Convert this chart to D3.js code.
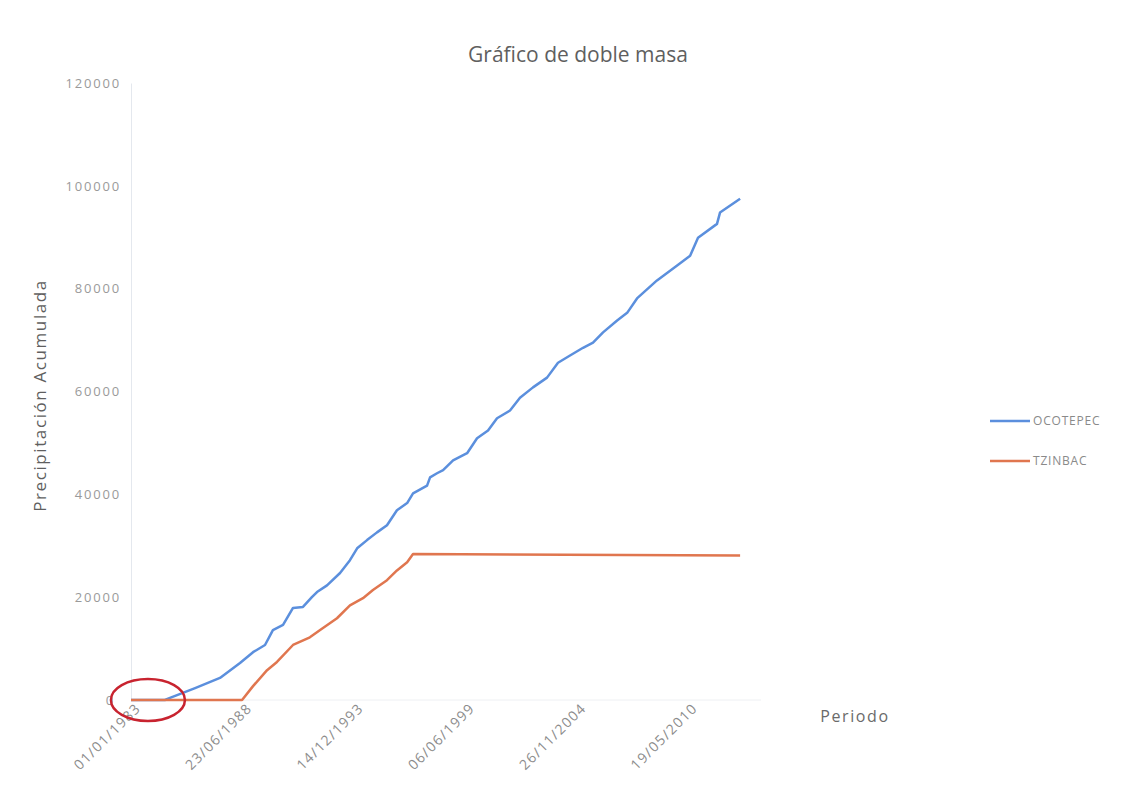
<!DOCTYPE html>
<html>
<head>
<meta charset="utf-8">
<script src="https://cdn.jsdelivr.net/npm/d3@7"></script>
<style>
    body { margin: 0; background: #fff; }
    text { font-family: "Open Sans", sans-serif; }
</style>
</head>
<body>
<svg></svg>
<script>
let width = 1124;
let height = 791;

let margin = {
    top: 83,
    right: 383,
    bottom: 91,
    left: 131
};

// cumulative rainfall (date, mm)
let ocotepecDates = ["1983-01-01", "1984-09-01", "1984-12-01", "1986-02-25", "1987-05-18",
    "1988-05-12", "1989-01-01", "1989-08-04", "1989-12-24", "1990-06-24", "1990-12-20",
    "1991-06-17", "1991-11-24", "1992-02-24", "1992-08-22", "1993-04-13", "1993-10-08",
    "1994-02-14", "1994-08-11", "1995-02-06", "1995-08-04", "1996-01-30", "1996-07-31",
    "1996-11-14", "1997-07-24", "1997-09-16", "1998-01-19", "1998-05-08", "1998-11-03",
    "1999-07-13", "2000-01-08", "2000-07-23", "2001-01-01", "2001-08-22", "2002-02-17",
    "2002-10-09", "2003-06-18", "2004-01-01", "2004-08-04", "2005-03-26", "2005-09-21",
    "2006-03-20", "2006-11-28", "2007-05-27", "2007-11-20", "2008-11-13", "2009-11-10",
    "2010-07-01", "2010-11-20", "2011-10-27", "2011-12-20", "2012-12-15"];
let ocotepecValues = [0, 0, 400, 2300, 4300,
    7200, 9300, 10700, 13600, 14600, 17900,
    18100, 20000, 21000, 22300, 24700, 27200,
    29500, 31100, 32600, 34000, 36900, 38300,
    40200, 41700, 43300, 44100, 44700, 46600,
    48000, 50900, 52400, 54800, 56300, 58800,
    60800, 62700, 65600, 67000, 68500, 69500,
    71500, 73800, 75300, 78100, 81600, 84500,
    86400, 89900, 92600, 94800, 97500];

let tzinbacDates = ["1983-01-01", "1988-06-18", "1989-01-01", "1989-09-10", "1990-03-07",
    "1990-12-20", "1991-10-19", "1992-04-20", "1993-02-17", "1993-10-08", "1994-05-30",
    "1994-11-25", "1995-08-04", "1996-01-30", "1996-07-31", "1996-11-14", "2012-12-15"];
let tzinbacValues = [0, 0, 2700, 5800, 7400,
    10700, 12200, 13600, 15900, 18400, 19800,
    21400, 23300, 25200, 26800, 28400, 28100];

let seriesNames = ["OCOTEPEC", "TZINBAC"];
let seriesColors = ["#5b8fdd", "#e0764f"];

let xTickLabels = ["01/01/1983", "23/06/1988", "14/12/1993", "06/06/1999", "26/11/2004", "19/05/2010"];
let yTickValues = [0, 20000, 40000, 60000, 80000, 100000, 120000];
let xDomain = ["1983-01-01", "2012-12-31"];

let parseDate = d3.timeParse("%Y-%m-%d");
let parseTick = d3.timeParse("%d/%m/%Y");

let svg = d3.select("body").select("svg")
    .attr("width", width)
    .attr("height", height)

function make_series(name, dates, values) {
    return {
        name: name,
        values: dates.map((d, i) => ({ date: parseDate(d), value: values[i] }))
    }
}

let series = [
    make_series(seriesNames[0], ocotepecDates, ocotepecValues),
    make_series(seriesNames[1], tzinbacDates, tzinbacValues)
];

let x = d3.scaleTime()
    .domain(xDomain.map(parseDate))
    .range([margin.left, width - margin.right])

let y = d3.scaleLinear()
    .domain([0, 120000])
    .range([height - margin.bottom, margin.top])

// title
svg.append("text")
    .attr("x", 578)
    .attr("y", 62)
    .attr("text-anchor", "middle")
    .style("font-size", "21px")
    .style("fill", "#5f5f5f")
    .text("Gráfico de doble masa")

// y axis: faint line, no ticks
let yAxis = svg.append("g")
    .attr("class", "y axis")
    .attr("transform", `translate(${margin.left},0)`)
    .call(d3.axisLeft(y).tickValues(yTickValues).tickSize(0).tickPadding(10).tickFormat(d3.format("d")))

yAxis.select(".domain").attr("stroke", "#e4e8ee")
yAxis.selectAll("text")
    .style("font-size", "13px")
    .style("letter-spacing", "1.8px")
    .style("fill", "#9a9a9a")
// the zero label sits a little further left, clear of the circle
yAxis.selectAll(".tick").filter(d => d === 0).select("text").attr("x", -16)

// x axis
let xAxis = svg.append("g")
    .attr("class", "x axis")
    .attr("transform", `translate(0,${y(0)})`)
    .call(d3.axisBottom(x).tickValues(xTickLabels.map(parseTick)).tickSize(0)
        .tickFormat(d3.timeFormat("%d/%m/%Y")))

xAxis.select(".domain")
    .attr("stroke", "#eef0f3")
    .attr("d", `M${margin.left},0H${width - margin.right + 20}`)
xAxis.selectAll("text")
    .attr("text-anchor", "end")
    .attr("dy", "0.3em")
    .attr("transform", "translate(5,4) rotate(-45)")
    .style("font-size", "14px")
    .style("letter-spacing", "1.3px")
    .style("fill", "#8c8c8c")

// axis titles
svg.append("text")
    .attr("transform", `translate(46,${(y(0) + y(120000)) / 2 + 4}) rotate(-90)`)
    .attr("text-anchor", "middle")
    .style("font-size", "17px")
    .style("letter-spacing", "1.6px")
    .style("fill", "#5f5f5f")
    .text("Precipitación Acumulada")

svg.append("text")
    .attr("x", 855)
    .attr("y", 722)
    .attr("text-anchor", "middle")
    .style("font-size", "16px")
    .style("letter-spacing", "1.6px")
    .style("fill", "#6a6a6a")
    .text("Periodo")

// lines
let line = d3.line()
    .x(d => x(d.date))
    .y(d => y(d.value))

svg.append("g")
    .selectAll(".line")
    .data(series)
    .join("path")
    .attr("d", d => line(d.values))
    .style("fill", "none")
    .style("stroke", (d, i) => seriesColors[i])
    .style("stroke-width", "2.5px")
    .style("stroke-linejoin", "round")

// red circle marking the start of the record
svg.append("ellipse")
    .attr("cx", x(parseDate("1983-11-01")))
    .attr("cy", y(0))
    .attr("rx", 37)
    .attr("ry", 21)
    .style("fill", "none")
    .style("stroke", "#c8232f")
    .style("stroke-width", "2.5px")

// legend
let legend = svg.append("g")
    .selectAll("g")
    .data(series)
    .join("g")
    .attr("transform", (d, i) => `translate(990,${421 + i * 40})`)

legend.append("line")
    .attr("x1", 0)
    .attr("x2", 40)
    .style("stroke", (d, i) => seriesColors[i])
    .style("stroke-width", "2.5px")

legend.append("text")
    .attr("x", 43)
    .attr("dy", "0.35em")
    .style("font-size", "12px")
    .style("letter-spacing", "0.8px")
    .style("fill", "#8a8a8a")
    .text(d => d.name)
</script>
</body>
</html>
